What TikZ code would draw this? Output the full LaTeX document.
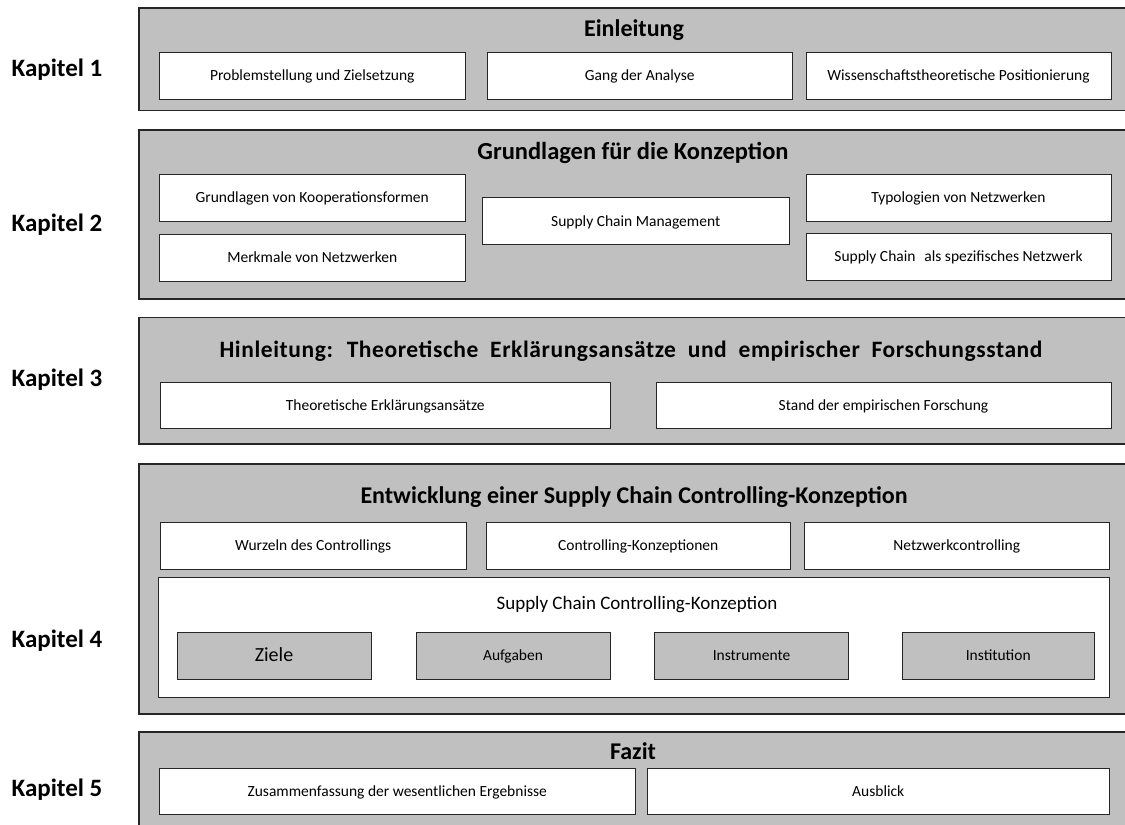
\documentclass[tikz,border=0pt]{standalone}
\usepackage{fontspec}
\setmainfont{Carlito}
\definecolor{panel}{HTML}{C0C0C0}
\definecolor{rim}{HTML}{262626}

% box from its corners: name, style, x1, y1, x2, y2, text
\newcommand\mkbox[7]{%
  \node[#2, minimum width={(#5-#3)*1pt}, minimum height={(#6-#4)*1pt}]
    (#1) at ({(#3+#5)/2},{(#4+#6)/2}) {#7};}
% tracked letters and wider word spacing for the long heading
\newcommand\widewords[1]{{\addfontfeature{LetterSpace=2.5}\spaceskip=0.5em\relax #1}}

\tikzset{
  chapterbox/.style={draw=rim, line width=1.2pt, fill=panel, inner sep=0pt, outer sep=0pt},
  itembox/.style={draw=rim, line width=1pt, fill=white, inner sep=0pt, outer sep=0pt,
    font=\fontsize{15.5}{18}\selectfont, text height=10pt, text depth=0pt},
  partbox/.style={itembox, fill=panel},
  titletext/.style={anchor=base, inner sep=0pt, font=\fontsize{24}{28}\selectfont\bfseries},
  chaptext/.style={anchor=base, inner sep=0pt, font=\fontsize{25}{30}\selectfont\bfseries},
}

\begin{document}
\begin{tikzpicture}[x=1pt, y=-1pt]
\useasboundingbox (0,0) rectangle (1125,825);

% chapter panels
\mkbox{k1}{chapterbox}{139}{8}{1128}{110.5}{}
\mkbox{k2}{chapterbox}{139}{130}{1128}{299}{}
\mkbox{k3}{chapterbox}{139}{317.5}{1128}{444}{}
\mkbox{k4}{chapterbox}{139}{464}{1128}{714}{}
\mkbox{k5}{chapterbox}{139}{732}{1128}{840}{}

% chapter labels
\node[chaptext] (l1) at (57,76) {Kapitel 1};
\node[chaptext] (l2) at (57,231) {Kapitel 2};
\node[chaptext] (l3) at (57,386.5) {Kapitel 3};
\node[chaptext] (l4) at (57,647) {Kapitel 4};
\node[chaptext] (l5) at (57,796.5) {Kapitel 5};

% chapter 1
\node[titletext] (t1) at (634,36.7) {Einleitung};
\mkbox{a1}{itembox}{159}{52.5}{465.5}{99}{Problemstellung und Zielsetzung}
\mkbox{a2}{itembox}{487.5}{52.5}{792}{99}{Gang der Analyse}
\mkbox{a3}{itembox}{806}{52.5}{1111}{99}{Wissenschaftstheoretische Positionierung}

% chapter 2
\node[titletext, font=\fontsize{24.5}{28}\selectfont\bfseries] (t2) at (633,159.3) {Grundlagen für die Konzeption};
\mkbox{b1}{itembox}{159}{174.5}{465.5}{221}{Grundlagen von Kooperationsformen}
\mkbox{b2}{itembox}{159}{234}{465.5}{281}{Merkmale von Netzwerken}
\mkbox{b3}{itembox}{482}{197.5}{789.5}{244.5}{Supply Chain Management}
\mkbox{b4}{itembox}{806}{174.5}{1111}{221}{Typologien von Netzwerken}
\mkbox{b5}{itembox}{806}{233.5}{1111}{280}{Supply Chain\hspace{0.35em} als spezifisches Netzwerk}

% chapter 3
\node[titletext, font=\fontsize{23.5}{28}\selectfont\bfseries]
  (t3) at (631,357.7) {\widewords{Hinleitung: Theoretische Erklärungsansätze und empirischer Forschungsstand}};
\mkbox{c1}{itembox}{160}{382}{610.5}{428.5}{Theoretische Erklärungsansätze}
\mkbox{c2}{itembox}{656}{382}{1111}{428.5}{Stand der empirischen Forschung}

% chapter 4
\node[titletext] (t4) at (634,503.3) {Entwicklung einer Supply Chain Controlling-Konzeption};
\mkbox{d1}{itembox}{160}{522.5}{466.5}{569}{Wurzeln des Controllings}
\mkbox{d2}{itembox}{486}{522.5}{790.5}{569}{Controlling-Konzeptionen}
\mkbox{d3}{itembox}{804.5}{522.5}{1109}{569}{Netzwerkcontrolling}
\mkbox{d4}{itembox}{158}{577.5}{1109}{697}{}
\node[anchor=base, inner sep=0pt, font=\fontsize{19}{22}\selectfont]
  (d4t) at (637,609.3) {Supply Chain Controlling-Konzeption};
\mkbox{p1}{partbox, font=\fontsize{20}{24}\selectfont, text height=12.9pt}{177}{632}{371}{679}{Ziele}
\mkbox{p2}{partbox}{416}{632}{610}{679}{Aufgaben}
\mkbox{p3}{partbox}{654.5}{632}{848.5}{679}{Instrumente}
\mkbox{p4}{partbox}{902}{632}{1094.5}{679}{Institution}

% chapter 5
\node[titletext] (t5) at (633,759) {Fazit};
\mkbox{e1}{itembox}{159}{768}{635.5}{814}{Zusammenfassung der wesentlichen Ergebnisse}
\mkbox{e2}{itembox}{647.5}{768}{1109}{814}{Ausblick}
\end{tikzpicture}
\end{document}
